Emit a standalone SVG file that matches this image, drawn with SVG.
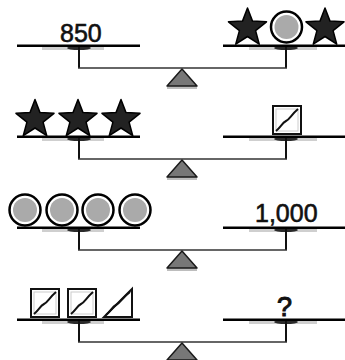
<svg xmlns="http://www.w3.org/2000/svg" xmlns:xlink="http://www.w3.org/1999/xlink" width="345" height="360" viewBox="0 0 345 360">
<style>
.num{font-family:"Liberation Sans",Arial,sans-serif;font-size:25px;fill:#111;stroke:#111;stroke-width:0.6}
.q{font-size:27px;stroke-width:1}
.pan{fill:#000}
.shade{fill:#cfcfcf}
.hub{fill:#2a2a2a}
.post{stroke:#111;stroke-width:2;fill:none}
.bar{stroke:#333;stroke-width:1.6;fill:none}
.fulcrum{fill:#777;stroke:#1a1a1a;stroke-width:1.5;stroke-linejoin:round}
.base{fill:#bdbdbd}
.star{fill:#222;stroke:#000;stroke-width:1.5;stroke-linejoin:round}
.ring{fill:#fff;stroke:#000;stroke-width:2.5}
.core{fill:#aaa}
.box{fill:#fff;stroke:#111;stroke-width:2}
.inner{fill:none;stroke:#ccc;stroke-width:1}
.slash{fill:none;stroke:#111;stroke-width:2}
</style>
<defs>
<path id="star" class="star" d="M0,-20 L5,-6.88 L19.02,-6.18 L8.08,2.63 L11.76,16.18 L0,8.5 L-11.76,16.18 L-8.08,2.63 L-19.02,-6.18 L-5,-6.88 Z"/>
<g id="ball"><circle class="ring" r="15.5"/><circle class="core" r="12"/></g>
<g id="sq"><rect class="box" x="0" y="0" width="28" height="28"/><rect class="inner" x="3" y="3" width="22" height="22"/><path class="slash" d="M3,25 C8,21 9,17 13,15 S18,9 25,3"/></g>
<g id="tri"><path class="box" d="M1,28 L29,28 L29,0 Z"/><path class="slash" d="M3,26 C8,22 9,18 13,16 S19,9 27,3"/></g>
<g id="balance">
<rect class="shade" x="42" y="47" width="62" height="3"/>
<ellipse class="hub" cx="79" cy="48" rx="12" ry="2"/>
<rect class="pan" x="17" y="44.5" width="123" height="2.5"/>
<rect class="shade" x="249" y="47" width="68" height="3"/>
<ellipse class="hub" cx="286" cy="48" rx="12" ry="2"/>
<rect class="pan" x="223" y="44.5" width="122" height="2.5"/>
<path class="post" d="M79,47 V68"/>
<path class="post" d="M286,47 V68"/>
<path class="bar" d="M78,68 H287"/>
<rect class="base" x="167" y="86" width="30" height="3"/>
<path class="fulcrum" d="M182,69 L197,86 L167,86 Z"/>
</g>
</defs>
<g id="connectors">
<use xlink:href="#balance"/>
<use xlink:href="#balance" y="91"/>
<use xlink:href="#balance" y="182"/>
<use xlink:href="#balance" y="274"/>
</g>
<g id="scale1">
<text class="num" x="60" y="42">850</text>
<use xlink:href="#star" x="247.5" y="28"/>
<use xlink:href="#ball" x="286.5" y="27"/>
<use xlink:href="#star" x="325" y="28"/>
</g>
<g id="scale2">
<use xlink:href="#star" x="35" y="119.5"/>
<use xlink:href="#star" x="78" y="119.5"/>
<use xlink:href="#star" x="121" y="119.5"/>
<use xlink:href="#sq" x="273" y="106"/>
</g>
<g id="scale3">
<use xlink:href="#ball" x="25" y="210"/>
<use xlink:href="#ball" x="62" y="210"/>
<use xlink:href="#ball" x="98" y="210"/>
<use xlink:href="#ball" x="135" y="210"/>
<text class="num" x="255" y="222">1,000</text>
</g>
<g id="scale4">
<use xlink:href="#sq" x="31" y="289"/>
<use xlink:href="#sq" x="68" y="289"/>
<use xlink:href="#tri" x="103" y="289"/>
<text class="num q" x="277" y="316">?</text>
</g>
</svg>
